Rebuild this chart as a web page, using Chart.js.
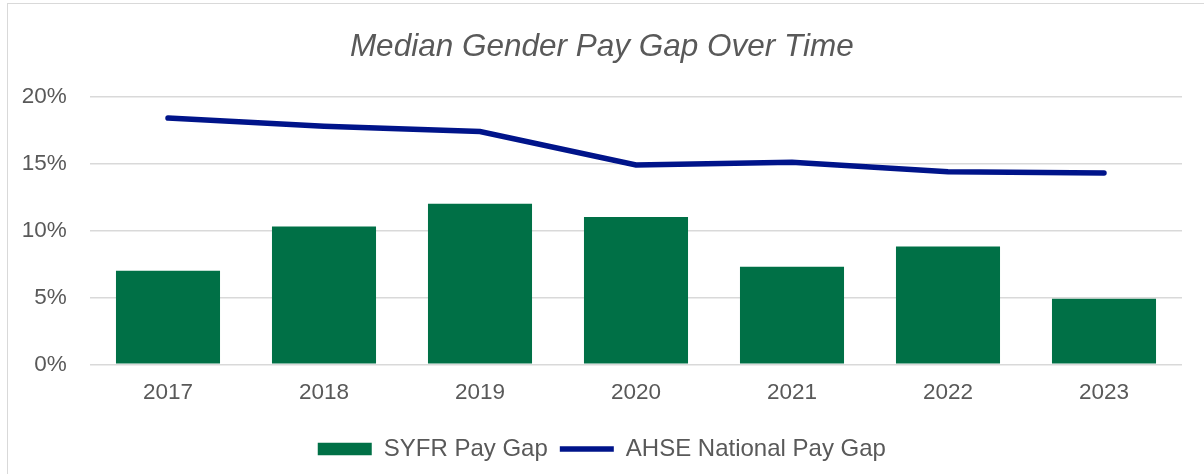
<!DOCTYPE html>
<html>
<head>
<meta charset="utf-8">
<script src="https://cdn.jsdelivr.net/npm/chart.js@4"></script>
<style>
  html, body { margin: 0; padding: 0; background: #fff; }
  #wrap { position: relative; width: 1204px; height: 474px; overflow: hidden; }
  #frame { position: absolute; left: 7px; top: 3px; width: 1210px; height: 480px; border: 1px solid #d9d9d9; box-sizing: border-box; }
  canvas { position: absolute; left: 0; top: 0; }
</style>
</head>
<body>
<div id="wrap">
  <div id="frame"></div>
  <canvas id="myChart" width="1204" height="474"></canvas>
</div>
<script>
// data
const years = ['2017', '2018', '2019', '2020', '2021', '2022', '2023']
const syfrGap = [7.0, 10.3, 12.0, 11.0, 7.3, 8.8, 4.9]
const ahseGap = [18.4, 17.8, 17.4, 14.9, 15.1, 14.4, 14.3]

const green = '#007046'
const navy = '#00148a'
const grey = '#595959'
const font = "'Liberation Sans', Arial, sans-serif"

new Chart(document.getElementById('myChart'), {
    data: {
        labels: years,
        datasets: [
            {
                type: 'line',
                label: 'AHSE National Pay Gap',
                data: ahseGap,
                borderColor: navy,
                backgroundColor: navy,
                borderWidth: 5.5,
                borderCapStyle: 'round',
                pointRadius: 0,
                pointStyle: 'line',
                tension: 0,
                order: 0
            },
            {
                type: 'bar',
                label: 'SYFR Pay Gap',
                data: syfrGap,
                backgroundColor: green,
                borderWidth: 0,
                barPercentage: 0.667,
                categoryPercentage: 1,
                pointStyle: 'rect',
                order: 1
            }
        ]
    },
    options: {
        responsive: false,
        animation: false,
        layout: { padding: { left: 21.7, right: 22, top: 0, bottom: 3 } },
        plugins: {
            title: {
                display: true,
                text: 'Median Gender Pay Gap Over Time',
                color: grey,
                font: { family: font, size: 31.5, style: 'italic', weight: 'normal' },
                padding: { top: 28, bottom: 30.9 }
            },
            legend: {
                position: 'bottom',
                reverse: true,
                labels: {
                    color: grey,
                    font: { family: font, size: 24 },
                    usePointStyle: true,
                    pointStyleWidth: 54,
                    boxHeight: 12.7,
                    padding: 12
                }
            },
            tooltip: { enabled: false }
        },
        scales: {
            x: {
                grid: { display: false, drawTicks: false },
                border: { display: false },
                ticks: { color: grey, font: { family: font, size: 22.5 }, padding: 15 },
                // fixed height so the legend sits low like the original
                afterFit: scale => { scale.height = 60.7 }
            },
            y: {
                min: 0,
                max: 20,
                ticks: {
                    stepSize: 5,
                    color: grey,
                    font: { family: font, size: 22.5 },
                    padding: 23.3,
                    callback: v => v + '%'
                },
                grid: { color: '#d9d9d9', lineWidth: 1.5, drawTicks: false },
                border: { display: false },
                afterFit: scale => { scale.width = 68.3 }
            }
        }
    }
})
</script>
</body>
</html>
